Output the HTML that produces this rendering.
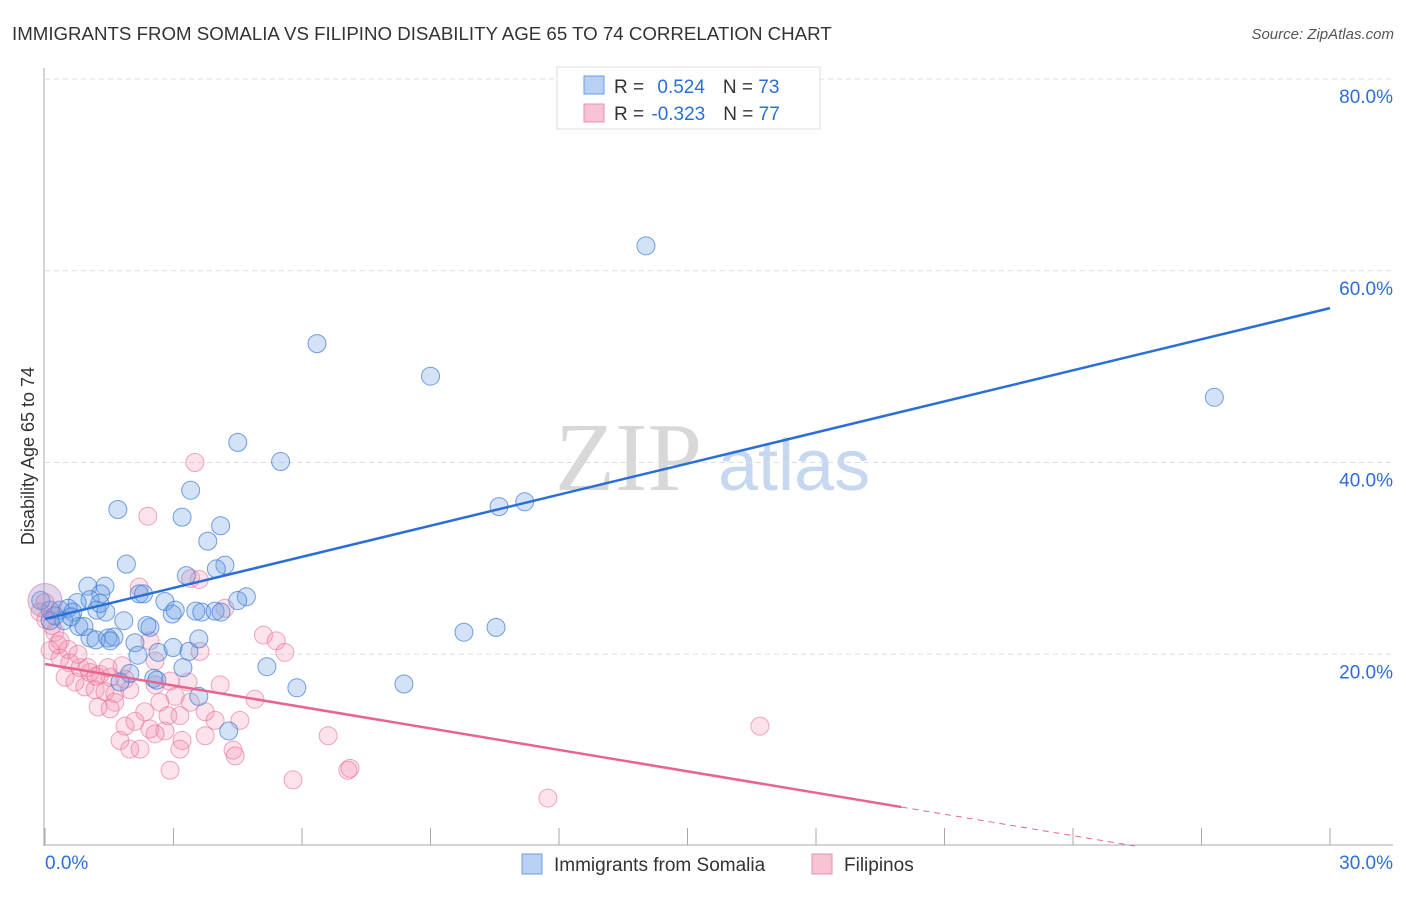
<!DOCTYPE html>
<html><head><meta charset="utf-8"><style>
body{margin:0;background:#fff;font-family:"Liberation Sans",sans-serif}
</style></head><body>
<svg id="c" width="1406" height="892" xmlns="http://www.w3.org/2000/svg">
<text x="12" y="40" font-size="18.7" fill="#333">IMMIGRANTS FROM SOMALIA VS FILIPINO DISABILITY AGE 65 TO 74 CORRELATION CHART</text>
<text x="1394" y="39" font-size="15" fill="#555" text-anchor="end" font-style="italic">Source: ZipAtlas.com</text>
<text x="34" y="456" font-size="18" fill="#333" text-anchor="middle" transform="rotate(-90 34 456)">Disability Age 65 to 74</text>
<text x="555" y="490" font-size="98" fill="#d8d8d8" font-family="Liberation Serif">ZIP</text>
<text x="718" y="490" font-size="72" fill="#c5d8f0">atlas</text>
<g id="grid"></g><g id="pts"></g><g id="lines"></g>
<g>
<rect x="557" y="67" width="263" height="62" fill="#fff" stroke="#ddd"/>
<rect x="584" y="76" width="20" height="18" fill="#b8d0f4" stroke="#6a9be0"/>
<rect x="584" y="104" width="20" height="18" fill="#f8c4d4" stroke="#ec8fae"/>
<text x="614" y="93" font-size="19" fill="#333">R = <tspan fill="#2b6fd6" dx="8">0.524</tspan><tspan dx="18" fill="#333">N = </tspan><tspan fill="#2b6fd6">73</tspan></text>
<text x="614" y="120" font-size="19" fill="#333">R = <tspan fill="#2b6fd6" dx="2">-0.323</tspan><tspan dx="18" fill="#333">N = </tspan><tspan fill="#2b6fd6">77</tspan></text>
</g>
<g>
<rect x="522" y="854" width="20" height="20" fill="#b8d0f4" stroke="#6a9be0"/>
<text x="554" y="871" font-size="19" fill="#333">Immigrants from Somalia</text>
<rect x="812" y="854" width="20" height="20" fill="#f8c4d4" stroke="#ec8fae"/>
<text x="844" y="871" font-size="19" fill="#333">Filipinos</text>
</g>
</svg>
<script>
const xTicks=[0,30];
const yTicks=[20,40,60,80];
const blueX=[14.03,6.35,9.0,27.3,4.5,5.5,3.4,1.7,3.2,4.1,10.6,11.2,3.8,1.9,4.2,3.3,4.0,1.0,1.4,1.3,1.05,0.75,2.2,2.3,2.8,4.7,4.5,0.12,0.35,0.54,0.65,1.21,1.42,2.97,3.04,3.52,3.66,3.97,4.11,1.84,2.45,2.38,0.79,1.05,1.19,1.47,1.61,2.1,2.64,2.99,3.36,3.59,9.78,10.53,3.22,5.18,8.38,2.54,5.88,1.98,2.61,3.59,4.29,-0.1,0.23,0.44,0.61,0.91,1.75,2.17,1.52,1.28,0.12];
const blueY=[62.6,52.4,49.0,46.8,42.1,40.1,37.1,35.1,34.3,33.4,35.4,35.9,31.8,29.4,29.3,28.2,28.9,27.1,27.1,26.3,25.7,25.4,26.3,26.3,25.5,26.0,25.6,24.6,24.6,24.8,24.4,24.6,24.4,24.2,24.6,24.5,24.4,24.5,24.4,23.5,22.8,23.0,22.9,21.7,21.5,21.7,21.8,21.2,20.2,20.7,20.3,21.6,22.3,22.8,18.6,18.7,16.9,17.5,16.5,18.0,17.3,15.6,12.0,25.6,24.0,23.5,23.9,22.9,17.1,19.9,21.4,25.3,23.5];
const pinkX=[3.5,2.4,2.2,3.4,3.6,4.2,5.1,5.4,5.6,0,0.23,0.35,0.12,0.35,0.58,0.82,1.05,1.28,1.52,0.47,0.7,0.93,1.17,1.4,1.63,1.87,1.98,1.63,1.24,2.45,2.57,2.92,3.04,3.39,2.68,2.33,1.87,2.1,2.45,2.8,3.15,3.74,3.97,4.55,4.9,1.75,1.98,2.22,3.2,3.15,4.39,4.44,2.92,5.79,6.61,7.07,7.12,11.74,16.69,0.3,0.54,0.77,1.0,1.47,1.8,1.19,-0.12,0.02,0.16,2.57,4.09,3.34,3.74,2.87,1.52,3.62,2.57];
const pinkY=[40.0,34.4,27.0,27.9,27.8,24.8,22.0,21.4,20.2,25.4,22.3,21.4,20.4,19.6,19.1,18.6,18.1,17.9,17.6,17.6,17.1,16.6,16.3,16.1,15.9,17.4,16.3,15.0,14.5,21.4,19.3,17.2,15.6,15.0,15.0,14.0,12.5,13.0,12.2,12.0,13.6,14.0,13.1,13.1,15.3,11.0,10.1,10.1,11.0,10.1,10.0,9.4,7.9,6.9,11.5,7.9,8.1,5.0,12.5,21.0,20.5,20.0,18.6,18.6,18.8,17.7,24.4,23.6,23.0,16.8,16.8,17.1,11.5,13.6,14.3,20.3,11.7];
const blueLine=[23.68,56.1];
const pinkLine=[18.98,-0.746];
const X=v=>45+v/30*1285, Y=v=>846-v*9.5875;
const NS='http://www.w3.org/2000/svg';
function mk(tag,a,p){const e=document.createElementNS(NS,tag);for(const k in a)e.setAttribute(k,a[k]);document.getElementById(p).appendChild(e);return e;}
yTicks.forEach(t=>{
 const l=mk('line',{x1:45,x2:1393,y1:Y(t),y2:Y(t),stroke:'#ddd','stroke-dasharray':'5,4'},'grid');
 
 
 const tx=mk('text',{x:1393,y:Y(t)+24,'font-size':19,fill:'#2b6fd6','text-anchor':'end'},'grid');
 tx.textContent=t.toFixed(1)+'%';
 
 
});
const ax=mk('line',{x1:44,x2:44,y1:68,y2:846,stroke:'#aaa'},'grid');


const bx=mk('line',{x1:44,x2:1393,y1:845,y2:845,stroke:'#aaa'},'grid');


for(let i=0;i<=10;i++){const t=mk('line',{x1:X(i*3),x2:X(i*3),y1:828,y2:845,stroke:'#aaa'},'grid');
 
 }
xTicks.forEach((t,i)=>{const tx=mk('text',{x:i?1393:45,y:869,'font-size':19,fill:'#2b6fd6','text-anchor':i?'end':'start'},'grid');
 tx.textContent=t.toFixed(1)+'%';
 
 });
pinkX.forEach((v,i)=>{const c=mk('circle',{cx:X(v),cy:Y(pinkY[i]),r:9,fill:'rgba(242,140,170,0.25)',stroke:'rgba(230,110,150,0.6)'},'pts');
 
 });
blueX.forEach((v,i)=>{const c=mk('circle',{cx:X(v),cy:Y(blueY[i]),r:9,fill:'rgba(110,160,230,0.3)',stroke:'rgba(60,120,210,0.7)'},'pts');
 
 });
const big=mk('circle',{cx:X(0),cy:Y(25.6),r:17,fill:'rgba(170,140,200,0.35)',stroke:'rgba(200,120,170,0.6)'},'pts');


const bl=mk('line',{x1:X(0),y1:Y(blueLine[0]),x2:X(30),y2:Y(blueLine[1]),stroke:'#2a6fd6','stroke-width':2.5},'lines');


const pe=20, pz=-pinkLine[0]/pinkLine[1];
const pl=mk('line',{x1:X(0),y1:Y(pinkLine[0]),x2:X(pe),y2:Y(pinkLine[0]+pinkLine[1]*pe),stroke:'#e8648f','stroke-width':2.5},'lines');


const pd=mk('line',{x1:X(pe),y1:Y(pinkLine[0]+pinkLine[1]*pe),x2:X(pz),y2:Y(0),stroke:'#e8648f','stroke-width':1,'stroke-dasharray':'6,5'},'lines');


</script>
</body></html>
